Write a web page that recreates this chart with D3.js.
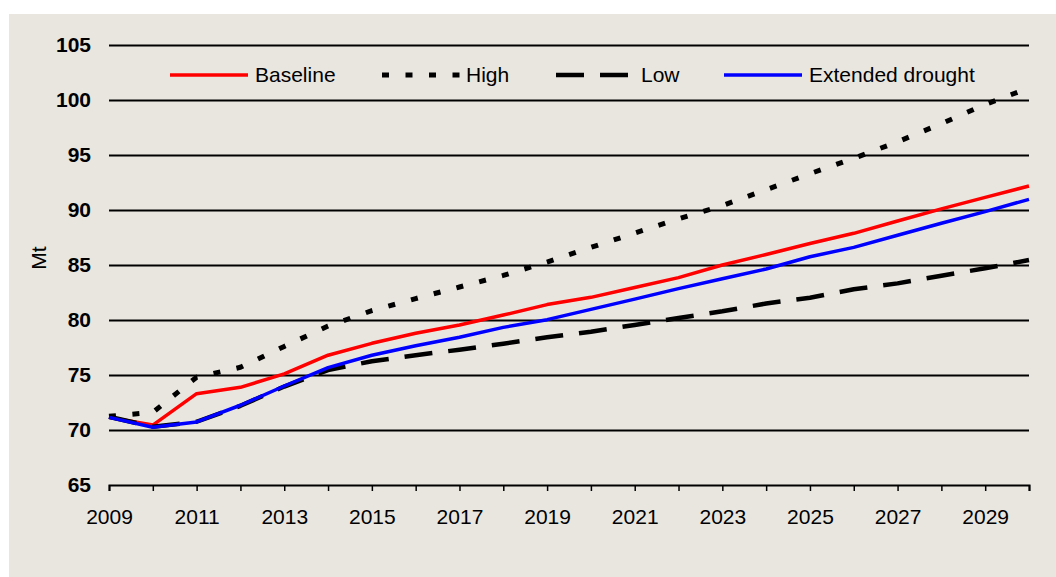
<!DOCTYPE html>
<html>
<head>
<meta charset="utf-8">
<script src="https://cdn.jsdelivr.net/npm/d3@7"></script>
<style>
  html, body { margin: 0; padding: 0; background: #ffffff; }
  svg { display: block; }
  text { font-family: Arial, "Liberation Sans", sans-serif; fill: #000; }
</style>
</head>
<body>
<svg id="chart" width="1056" height="577"></svg>
<script>
// ---- Data ----
const years = [2009, 2010, 2011, 2012, 2013, 2014, 2015, 2016, 2017, 2018, 2019,
               2020, 2021, 2022, 2023, 2024, 2025, 2026, 2027, 2028, 2029, 2030];
const baseline = [71.15, 70.45, 73.3, 73.88, 75.1, 76.8, 77.88, 78.79, 79.55, 80.45, 81.4,
                  82.06, 82.95, 83.85, 85.0, 85.95, 86.95, 87.88, 89.0, 90.1, 91.15, 92.18];
const high = [71.25, 71.6, 74.8, 75.7, 77.6, 79.45, 80.85, 81.95, 83.0, 84.05, 85.27,
              86.6, 87.9, 89.2, 90.4, 91.85, 93.3, 94.7, 96.2, 97.85, 99.6, 101.1];
const low = [71.2, 70.3, 70.75, 72.2, 73.95, 75.45, 76.25, 76.8, 77.3, 77.85, 78.43,
             78.94, 79.55, 80.18, 80.79, 81.5, 82.03, 82.79, 83.33, 84.03, 84.7, 85.45];
const drought = [71.15, 70.25, 70.73, 72.25, 74.0, 75.67, 76.8, 77.66, 78.43, 79.33, 80.03,
                 80.97, 81.9, 82.85, 83.75, 84.64, 85.75, 86.6, 87.7, 88.8, 89.85, 90.97];
const seriesNames = ["Baseline", "High", "Low", "Extended drought"];
const yTicks = [65, 70, 75, 80, 85, 90, 95, 100, 105];
const xLabelYears = [2009, 2011, 2013, 2015, 2017, 2019, 2021, 2023, 2025, 2027, 2029];
const yAxisTitle = "Mt";

// ---- Styles ----
const styles = {
  "Baseline":         { color: "#ff0000", width: 3.5, dash: null },
  "High":             { color: "#000000", width: 5,   dash: "7,16.5" },
  "Low":              { color: "#000000", width: 4.5, dash: "28,16" },
  "Extended drought": { color: "#0000ff", width: 3.5, dash: null }
};
const seriesValues = { "Baseline": baseline, "High": high, "Low": low, "Extended drought": drought };

const svg = d3.select("#chart");
const W = 1056, H = 577;

// background panel
svg.append("rect").attr("x", 9).attr("y", 14).attr("width", W - 9).attr("height", H - 14)
  .attr("fill", "#e9e6e0");

const x = d3.scaleLinear().domain([2009, 2030]).range([109, 1029]);
const y = d3.scaleLinear().domain([65, 105]).range([485, 45]);

// gridlines + y labels
const yAxis = d3.axisLeft(y)
  .tickValues(yTicks)
  .tickSizeInner(-(x.range()[1] - x.range()[0]))
  .tickSizeOuter(0)
  .tickPadding(18)
  .tickFormat(d3.format("d"));
const gy = svg.append("g").attr("transform", `translate(${x.range()[0]},0)`).call(yAxis);
gy.select(".domain").remove();
gy.selectAll(".tick line").attr("stroke", "#000").attr("stroke-width", 2)
  .attr("display", d => d === 65 ? "none" : null);
gy.selectAll(".tick text").attr("font-size", 21).attr("font-weight", "bold")
  .attr("font-family", "Arial, 'Liberation Sans', sans-serif").attr("fill", "#000");

// x axis
const xAxis = d3.axisBottom(x)
  .tickValues(years)
  .tickSizeInner(6)
  .tickSizeOuter(6)
  .tickPadding(18)
  .tickFormat(d => xLabelYears.includes(d) ? String(d) : "");
const gx = svg.append("g").attr("transform", `translate(0,${y(65)})`).call(xAxis);
gx.select(".domain").attr("stroke", "#000").attr("stroke-width", 2);
gx.selectAll(".tick line").attr("stroke", "#000").attr("stroke-width", 1.5);
gx.selectAll(".tick text").attr("font-size", 21)
  .attr("font-family", "Arial, 'Liberation Sans', sans-serif").attr("fill", "#000");

// y axis title
svg.append("text")
  .attr("transform", `translate(46,258) rotate(-90)`)
  .attr("text-anchor", "middle")
  .attr("font-size", 21)
  .text(yAxisTitle);

// lines
const line = d3.line().x((d, i) => x(years[i])).y(d => y(d));
seriesNames.forEach(name => {
  const s = styles[name];
  svg.append("path")
    .datum(seriesValues[name])
    .attr("d", line)
    .attr("fill", "none")
    .attr("stroke", s.color)
    .attr("stroke-width", s.width)
    .attr("stroke-dasharray", s.dash)
    .attr("stroke-linejoin", "round");
});

// legend
const legendY = 75;
const legendItems = [
  { name: "Baseline", x0: 170, x1: 248, tx: 255 },
  { name: "High", x0: 382, x1: 460, tx: 466 },
  { name: "Low", x0: 556, x1: 629, tx: 641 },
  { name: "Extended drought", x0: 724, x1: 802, tx: 809 }
];
const lg = svg.append("g");
legendItems.forEach(it => {
  const s = styles[it.name];
  lg.append("line")
    .attr("x1", it.x0).attr("x2", it.x1)
    .attr("y1", legendY).attr("y2", legendY)
    .attr("stroke", s.color)
    .attr("stroke-width", s.width)
    .attr("stroke-dasharray", s.dash);
  lg.append("text")
    .attr("x", it.tx).attr("y", legendY)
    .attr("dy", "0.35em")
    .attr("font-size", 21)
    .text(it.name);
});
</script>
</body>
</html>
